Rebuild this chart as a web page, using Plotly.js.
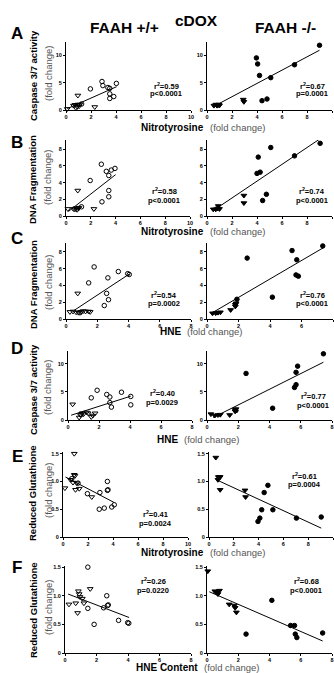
<!DOCTYPE html>
<html><head><meta charset="utf-8">
<script src="https://cdn.plot.ly/plotly-3.0.1.min.js"></script>
<style>html,body{margin:0;padding:0;background:#fff}#chart{width:334px;height:673px}</style>
</head><body><div id="chart"></div><script>
// ---------- DATA ----------
// Row A: Nitrotyrosine vs Caspase 3/7 activity
const aL_triX = [0.1, 0.6, 0.72, 0.8, 0.9, 0.95, 1.05, 1.1, 0.95, 2.3];
const aL_triY = [0.2, 0.8, 0.95, 0.35, 0.6, 1.0, 0.7, 1.0, 2.65, 0.55];
const aL_cirX = [1.25, 1.95, 2.88, 2.95, 3.35, 3.5, 3.5, 3.5, 3.82, 4.03];
const aL_cirY = [1.1, 3.85, 5.2, 4.45, 4.1, 3.95, 2.95, 2.1, 2.45, 4.85];
const aL_fitX = [0.1, 4.05];
const aL_fitY = [0.25, 4.25];
const aR_triX = [0.55, 0.7, 0.8, 0.9, 0.95, 1.0, 2.9, 2.95];
const aR_triY = [0.8, 1.0, 0.8, 0.9, 1.0, 0.85, 1.9, 1.5];
const aR_cirX = [3.95, 4.05, 4.2, 5.1, 7.0, 9.0, 4.4, 4.8];
const aR_cirY = [9.5, 8.4, 6.3, 5.9, 8.25, 11.8, 1.7, 2.0];
const aR_fitX = [0.7, 9.0];
const aR_fitY = [0.85, 10.9];
// Row B: Nitrotyrosine vs DNA Fragmentation
const bL_triX = [0.15, 0.6, 0.72, 0.8, 0.9, 1.0, 1.05, 0.95, 2.25];
const bL_triY = [0.85, 0.85, 0.8, 0.95, 0.75, 0.9, 1.0, 3.05, 0.85];
const bL_cirX = [1.25, 1.95, 2.85, 3.25, 3.45, 3.65, 3.95, 3.45, 3.45, 2.9];
const bL_cirY = [1.1, 4.25, 6.2, 5.35, 4.85, 5.5, 5.7, 3.05, 2.3, 1.7];
const bL_fitX = [0.2, 4.0];
const bL_fitY = [0.55, 4.95];
const bR_triX = [0.5, 0.7, 0.85, 0.9, 1.0, 2.95, 2.95];
const bR_triY = [0.8, 0.8, 0.9, 1.2, 0.85, 2.45, 1.55];
const bR_cirX = [4.0, 4.1, 4.25, 5.1, 7.0, 9.05, 4.45, 4.75];
const bR_cirY = [5.1, 7.05, 5.25, 8.2, 7.2, 8.7, 1.85, 2.6];
const bR_fitX = [0.5, 9.0];
const bR_fitY = [0.65, 9.2];
// Row C: HNE vs DNA Fragmentation
const cL_triX = [0.25, 0.45, 0.65, 0.8, 0.75, 0.95, 1.1, 1.25, 1.55, 1.45];
const cL_triY = [0.85, 0.9, 0.8, 0.75, 3.05, 0.85, 0.95, 0.9, 0.85, 0.9];
const cL_cirX = [0.9, 1.45, 1.8, 2.45, 2.6, 2.68, 2.72, 3.35, 3.95, 4.05];
const cL_cirY = [0.75, 4.3, 6.2, 1.6, 3.05, 4.9, 2.3, 5.65, 5.4, 5.3];
const cL_fitX = [0.5, 4.05];
const cL_fitY = [1.0, 5.35];
const cR_triX = [0.35, 0.55, 0.7, 0.85, 1.5, 1.8, 1.85, 1.8];
const cR_triY = [0.68, 0.7, 0.76, 0.8, 1.08, 1.5, 1.88, 1.7];
const cR_cirX = [1.9, 2.55, 4.15, 5.4, 5.7, 5.65, 5.8, 7.35];
const cR_cirY = [2.35, 7.25, 2.6, 8.15, 7.05, 5.25, 5.1, 8.7];
const cR_fitX = [0.25, 7.4];
const cR_fitY = [0.65, 8.5];
// Row D: HNE vs Caspase 3/7 activity
const dL_triX = [0.3, 0.72, 0.8, 0.9, 1.0, 1.2, 1.3, 1.5, 1.6, 1.75];
const dL_triY = [2.8, 0.45, 0.9, 1.2, 1.05, 1.35, 1.2, 0.55, 0.8, 1.2];
const dL_cirX = [0.85, 1.5, 1.88, 2.5, 2.7, 2.7, 2.8, 3.45, 4.05, 4.05];
const dL_cirY = [1.0, 3.95, 5.3, 4.55, 4.1, 3.1, 2.3, 4.95, 4.2, 2.7];
const dL_fitX = [0.2, 4.05];
const dL_fitY = [0.85, 4.25];
const dR_triX = [0.25, 0.5, 0.7, 0.85, 1.45, 1.8, 1.85, 1.8];
const dR_triY = [1.05, 0.8, 0.9, 0.95, 0.9, 1.55, 1.95, 1.8];
const dR_cirX = [1.85, 2.5, 4.2, 5.6, 5.7, 5.7, 5.8, 7.45];
const dR_cirY = [1.7, 8.3, 2.1, 5.8, 6.3, 8.5, 9.6, 11.8];
const dR_fitX = [0.4, 7.45];
const dR_fitY = [0.45, 10.3];
// Row E: Nitrotyrosine vs Reduced Glutathione
const eL_triX = [0.15, 0.6, 0.9, 0.9, 0.95, 1.0, 1.1, 1.3, 2.3, 0.8];
const eL_triY = [0.88, 1.03, 1.5, 1.12, 1.1, 0.85, 0.97, 0.87, 0.72, 0.98];
const eL_cirX = [0.7, 1.2, 1.95, 2.95, 2.9, 3.3, 3.55, 3.55, 3.6, 3.9, 4.1];
const eL_cirY = [1.05, 0.97, 0.78, 0.8, 0.5, 0.52, 1.0, 0.84, 0.85, 0.54, 0.58];
const eL_fitX = [0.2, 4.1];
const eL_fitY = [1.08, 0.62];
const eR_triX = [0.55, 0.75, 0.85, 0.9, 0.72, 0.9, 2.9, 2.95];
const eR_triY = [1.43, 1.08, 1.08, 1.08, 1.03, 0.85, 0.84, 0.72];
const eR_cirX = [3.95, 4.1, 4.25, 4.45, 4.75, 5.15, 7.05, 9.05];
const eR_cirY = [0.28, 0.34, 0.49, 0.8, 0.93, 0.49, 0.34, 0.36];
const eR_fitX = [0.6, 9.05];
const eR_fitY = [1.03, 0.16];
// Row F: HNE Content vs Reduced Glutathione
const fL_triX = [0.25, 0.68, 0.8, 0.85, 0.9, 0.95, 1.1, 1.2, 1.6];
const fL_triY = [0.85, 0.87, 0.7, 1.08, 1.03, 0.98, 0.95, 0.87, 1.12];
const fL_cirX = [1.45, 1.45, 1.85, 2.45, 2.65, 2.7, 2.75, 3.4, 3.98, 4.05];
const fL_cirY = [1.5, 0.78, 0.5, 0.79, 1.0, 0.83, 0.84, 0.57, 0.53, 0.52];
const fL_fitX = [0.2, 4.07];
const fL_fitY = [1.03, 0.62];
const fR_triX = [0.05, 0.5, 0.65, 0.8, 0.7, 1.42, 1.75, 1.8, 1.88];
const fR_triY = [1.43, 1.08, 1.07, 1.09, 1.03, 0.85, 0.83, 0.79, 0.71];
const fR_cirX = [2.5, 4.15, 5.35, 5.6, 5.65, 5.75, 7.4];
const fR_cirY = [0.33, 0.92, 0.48, 0.48, 0.33, 0.27, 0.35];
const fR_fitX = [0.15, 7.4];
const fR_fitY = [1.07, 0.21];

// tick labels
const ticks0to10 = [0, 2, 4, 6, 8, 10];
const ticks0to8 = [0, 2, 4, 6, 8];
const caspTicks = [0, 5, 10];
const dnaTicks = [0, 2, 4, 6, 8];
const gshTickVals = [0, 0.5, 1.0, 1.5];
const gshTickText = ['0', '0.5', '1.0', '1.5'];

// statistics text
const statsR2 = ['0.59','0.67','0.58','0.74','0.54','0.76','0.40','0.77','0.41','0.61','0.26','0.68'];
const statsP  = ['p<0.0001','p=0.0001','p<0.0001','p<0.0001','p=0.0002','p<0.0001','p=0.0029','p<0.0001','p=0.0024','p=0.0004','p=0.0220','p<0.0001'];

// titles
const xTitles = ['Nitrotyrosine', 'Nitrotyrosine', 'HNE', 'HNE', 'Nitrotyrosine', 'HNE Content'];
const yTitles = ['Caspase 3/7 activity', 'DNA Fragmentation', 'DNA Fragmentation', 'Caspase 3/7 activity', 'Reduced Glutathione', 'Reduced Glutathione'];
const unitText = '(fold change)';

// ---------- LAYOUT GEOMETRY (pixels) ----------
const W = 334, H = 673;
const FONT = 'Liberation Sans, Arial, sans-serif';
const px = v => v / W;
const py = v => 1 - v / H;

const rows = [
  {top:42,  bot:110, yr:[0,12.4], yt:caspTicks, ytt:null, xr:10, L:[66,191], R:[207,332]},
  {top:140, bot:216, yr:[0,9.1],  yt:dnaTicks,  ytt:null, xr:10, L:[66,190], R:[207,332]},
  {top:243, bot:319, yr:[0,9.05], yt:dnaTicks,  ytt:null, xr:8,  L:[66,191], R:[207,333]},
  {top:351, bot:420, yr:[0,12.3], yt:caspTicks, ytt:null, xr:8,  L:[68,192], R:[207,332]},
  {top:452, bot:537, yr:[0,1.53], yt:gshTickVals, ytt:gshTickText, xr:10, L:[63,188], R:[209,333]},
  {top:566, bot:653, yr:[0,1.52], yt:gshTickVals, ytt:gshTickText, xr:8, L:[65,191], R:[207,332]}
];

const panelData = [
  [[aL_triX,aL_triY,aL_cirX,aL_cirY,aL_fitX,aL_fitY],[aR_triX,aR_triY,aR_cirX,aR_cirY,aR_fitX,aR_fitY]],
  [[bL_triX,bL_triY,bL_cirX,bL_cirY,bL_fitX,bL_fitY],[bR_triX,bR_triY,bR_cirX,bR_cirY,bR_fitX,bR_fitY]],
  [[cL_triX,cL_triY,cL_cirX,cL_cirY,cL_fitX,cL_fitY],[cR_triX,cR_triY,cR_cirX,cR_cirY,cR_fitX,cR_fitY]],
  [[dL_triX,dL_triY,dL_cirX,dL_cirY,dL_fitX,dL_fitY],[dR_triX,dR_triY,dR_cirX,dR_cirY,dR_fitX,dR_fitY]],
  [[eL_triX,eL_triY,eL_cirX,eL_cirY,eL_fitX,eL_fitY],[eR_triX,eR_triY,eR_cirX,eR_cirY,eR_fitX,eR_fitY]],
  [[fL_triX,fL_triY,fL_cirX,fL_cirY,fL_fitX,fL_fitY],[fR_triX,fR_triY,fR_cirX,fR_cirY,fR_fitX,fR_fitY]]
];

// stats text positions: [r2 y, p y, center x] for left and right panels
const statL = [[86,94,166],[191,200,164],[295,304,164],[393,402,162],[514,523,155],[581,590,153]];
const statR = [[86,94,312],[191,200,312],[295,304,312],[396,405,313],[476,484,304],[581,590,306]];

const traces = [];
const layout = {
  width: W, height: H,
  margin: {l:0, r:0, t:0, b:0},
  paper_bgcolor: '#fff', plot_bgcolor: 'rgba(0,0,0,0)',
  showlegend: false, hovermode: false,
  font: {family: FONT, color: '#000'},
  annotations: []
};

function ann(text, x, y, size, opts, fontExtra) {
  layout.annotations.push(Object.assign({xref:'paper', yref:'paper', x: px(x), y: py(y), xanchor:'center', yanchor:'middle',
    text: text, showarrow:false, font: Object.assign({size: size, family: FONT, color:'#000'}, fontExtra || {})}, opts || {}));
}

let n = 0;
rows.forEach((r, ri) => {
  ['L','R'].forEach((side, si) => {
    n++;
    const xa = 'xaxis' + (n === 1 ? '' : n), ya = 'yaxis' + (n === 1 ? '' : n);
    const xr = 'x' + (n === 1 ? '' : n), yr = 'y' + (n === 1 ? '' : n);
    const d = panelData[ri][si];
    const filled = side === 'R';
    const xpx = r[side];
    const tf = {size: 5.5, family: FONT, weight: 'bold', color: '#000'};
    layout[xa] = {
      domain: [px(xpx[0]), px(xpx[1])], anchor: yr,
      range: [0, r.xr], tickvals: r.xr === 10 ? ticks0to10 : ticks0to8,
      showline: true, linecolor: '#000', linewidth: 1,
      ticks: 'outside', ticklen: 2, tickwidth: 1, tickcolor: '#000',
      showgrid: false, zeroline: false, fixedrange: true, tickfont: tf, ticklabelstandoff: -1
    };
    layout[ya] = {
      domain: [py(r.bot), py(r.top)], anchor: xr,
      range: r.yr, tickvals: r.yt, ticktext: r.ytt || r.yt.map(String),
      showline: true, linecolor: '#000', linewidth: 1,
      ticks: 'outside', ticklen: 2, tickwidth: 1, tickcolor: '#000',
      showgrid: false, zeroline: false, fixedrange: true, tickfont: tf
    };
    traces.push({x: d[4], y: d[5], xaxis: xr, yaxis: yr, mode: 'lines', type: 'scatter',
      line: {color: '#000', width: 1}, cliponaxis: false});
    traces.push({x: d[0], y: d[1], xaxis: xr, yaxis: yr, mode: 'markers', type: 'scatter', cliponaxis: false,
      marker: {symbol: filled ? 'triangle-down' : 'triangle-down-open', size: 5,
        color: '#000', line: {color: '#000', width: 1}}});
    traces.push({x: d[2], y: d[3], xaxis: xr, yaxis: yr, mode: 'markers', type: 'scatter', cliponaxis: false,
      marker: {symbol: filled ? 'circle' : 'circle-open', size: 4.5,
        color: '#000', line: {color: '#000', width: 1}}});
    const k = ri * 2 + si;
    const sp = si === 0 ? statL[ri] : statR[ri];
    ann('r<sup>2</sup>=' + statsR2[k], sp[2], sp[0], 7.5, null, {weight: 'bold'});
    ann(statsP[k], sp[2], sp[1], 7.5, null, {weight: 'bold'});
  });
});

// headers
ann('cDOX', 196, 20, 15.5, null, {weight: 'bold'});
ann('FAAH +/+', 124, 28, 15.5, null, {weight: 'bold'});
ann('FAAH -/-', 285, 28, 15.5, null, {weight: 'bold'});
// panel letters
const letters = ['A','B','C','D','E','F'];
const letterY = [33, 142, 238, 348, 456, 567];
letters.forEach((L, i) => ann(L, 17, letterY[i], 17, null, {weight: 'bold'}));
// x titles: bold name ends at split, unit text starts just after
const xSplit = [206, 206, 183, 180, 206, 200];
const xTitleY = [127, 231, 331, 439, 552, 667];
xTitles.forEach((t, i) => {
  ann(t, xSplit[i], xTitleY[i], 10, {xanchor: 'right'}, {weight: 'bold'});
  ann(unitText, xSplit[i] + 1.5, xTitleY[i] + 0.5, 9.5, {xanchor: 'left'}, {color: '#555'});
});
// y titles
const yTitleC = [76, 180, 285, 390, 493, 610];
yTitles.forEach((t, i) => {
  ann(t, 33, yTitleC[i], 9.5, {textangle: -90}, {weight: 'bold'});
  ann(unitText, 48, yTitleC[i] - 2, 9.5, {textangle: -90}, {color: '#555'});
});

Plotly.newPlot('chart', traces, layout, {staticPlot: true, displayModeBar: false});
</script></body></html>
